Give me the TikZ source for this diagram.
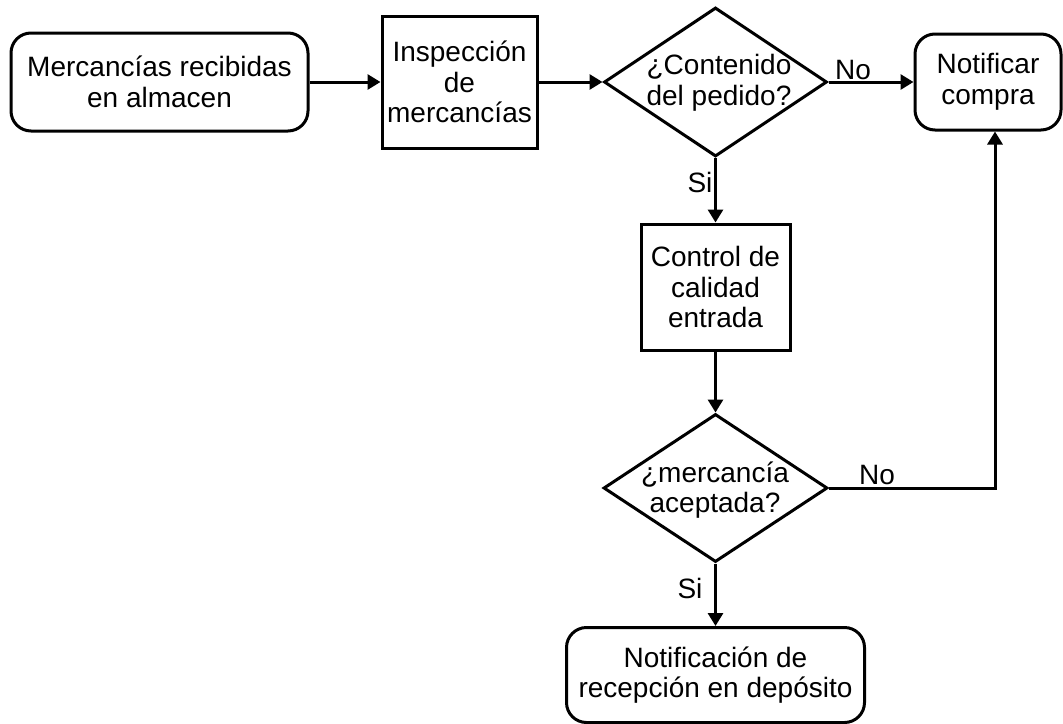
\documentclass[tikz,border=0pt]{standalone}
\usepackage{fontspec}
\setmainfont{Liberation Sans}
\usetikzlibrary{arrows.meta,shapes.geometric}
\begin{document}
\begin{tikzpicture}[x=1pt,y=-1pt,
  every node/.style={font=\fontsize{28}{30.5}\selectfont},
  box/.style={draw,line width=3pt,rectangle,align=center,inner sep=0pt},
  rbox/.style={box,rounded corners=20pt},
  decision/.style={draw,line width=3pt,diamond,inner sep=0pt},
  txt/.style={align=center,inner sep=0pt},
  flow/.style={line width=3pt,-{Triangle[length=13pt,width=15pt]}},
  lbl/.style={inner sep=0pt}]
\useasboundingbox (0,0) rectangle (1063,723);

% process steps
\node[rbox,minimum width=297pt,minimum height=98pt] (recv) at (159.5,82) {Mercancías recibidas\\en almacen};
\node[box,minimum width=155pt,minimum height=132pt] (insp) at (459.5,82) {Inspección\\de\\mercancías};
\node[decision,minimum width=223pt,minimum height=149pt] (cont) at (715.5,82) {};
\node[txt] (contt) at (719,83) {¿Contenido\\del pedido?};
\node[rbox,minimum width=146pt,minimum height=96pt] (notc) at (988,82) {Notificar\\compra};
\node[box,minimum width=149pt,minimum height=126pt] (ctrl) at (715.5,287) {Control de\\calidad\\entrada};
\node[decision,minimum width=224pt,minimum height=148pt] (acep) at (715.5,488) {};
\node[txt] (acept) at (715,490) {¿mercancía\\aceptada?};
\node[rbox,minimum width=298pt,minimum height=95pt] (dep) at (715.5,675) {Notificación de\\recepción en depósito};

% return path from the acceptance check
\coordinate (turn) at (995,488);

% connectors
\draw[flow] (recv.east) -- (insp.west);
\draw[flow] (insp.east) -- (cont.west);
\draw[flow] (cont.east) -- (notc.west);
\draw[flow] (cont.south) -- (ctrl.north);
\draw[flow] (ctrl.south) -- (acep.north);
\draw[flow] (acep.east) -- (turn) -- (turn |- notc.south);
\draw[flow] (acep.south) -- (dep.north);

% branch labels
\node[lbl] (no1) at (853,70) {No};
\node[lbl] (si1) at (700,182) {Si};
\node[lbl] (no2) at (877,475) {No};
\node[lbl] (si2) at (690,588) {Si};
\end{tikzpicture}
\end{document}
